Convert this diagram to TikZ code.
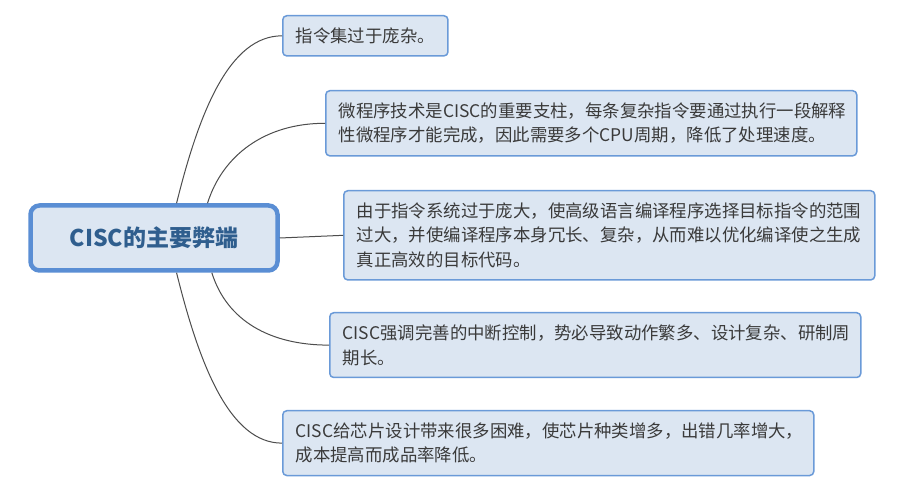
\documentclass[tikz,border=0pt]{standalone}
\usepackage{fontspec}
\setmainfont{Noto Sans CJK SC}
\usetikzlibrary{positioning}
\definecolor{boxfill}{HTML}{DCE6F2}
\definecolor{boxline}{HTML}{6A9AD8}
\definecolor{topicline}{HTML}{5A8ED4}
\definecolor{topictext}{HTML}{2F5E8E}
\definecolor{branch}{HTML}{4D4D4D}
\definecolor{bodytext}{HTML}{3A3A3A}

\begin{document}
\begin{tikzpicture}[x=1pt, y=1pt,
    topic/.style={rectangle, rounded corners=9pt, draw=topicline, line width=4.5pt, fill=boxfill, minimum width=247pt, minimum height=65pt, text=topictext, font=\fontsize{23}{27}\selectfont\bfseries},
    idea/.style={rectangle, rounded corners=4pt, draw=boxline, line width=1.5pt, fill=boxfill, anchor=north west, inner xsep=13pt, inner ysep=12pt, text=bodytext, align=left, font=\fontsize{17.4}{24.5}\selectfont},
    wide/.style={text width=505pt},
    branchline/.style={draw=branch, line width=1pt}
]
    \useasboundingbox[fill=white] (0,0) rectangle (909,492);

    % Central topic
    \node[topic] (c) at (154,254) {CISC的主要弊端};

    % Branches
    \node[idea] (b1) at (282,477) {指令集过于庞杂。};
    \node[idea, wide] (b2) at (325,402) {微程序技术是CISC的重要支柱，每条复杂指令要通过执行一段解释\\性微程序才能完成，因此需要多个CPU周期，降低了处理速度。};
    \node[idea, wide] (b3) at (343,302) {由于指令系统过于庞大，使高级语言编译程序选择目标指令的范围\\过大，并使编译程序本身冗长、复杂，从而难以优化编译使之生成\\真正高效的目标代码。};
    \node[idea, wide] (b4) at (329,180) {CISC强调完善的中断控制，势必导致动作繁多、设计复杂、研制周\\期长。};
    \node[idea, wide] (b5) at (282,82) {CISC给芯片设计带来很多困难，使芯片种类增多，出错几率增大，\\成本提高而成品率降低。};

    % Connectors
    \draw[branchline] (c.57) .. controls +(23,93) and +(-52,0) .. (b1.west);
    \draw[branchline] (c.33) .. controls +(15,48) and +(-60,0) .. (b2.west);
    \draw[branchline] (c.east) -- (b3.west);
    \draw[branchline] (c.-31) .. controls +(15,-48) and +(-59,0) .. (b4.west);
    \draw[branchline] (c.-57) .. controls +(23,-93) and +(-52,0) .. (b5.west);
\end{tikzpicture}
\end{document}
